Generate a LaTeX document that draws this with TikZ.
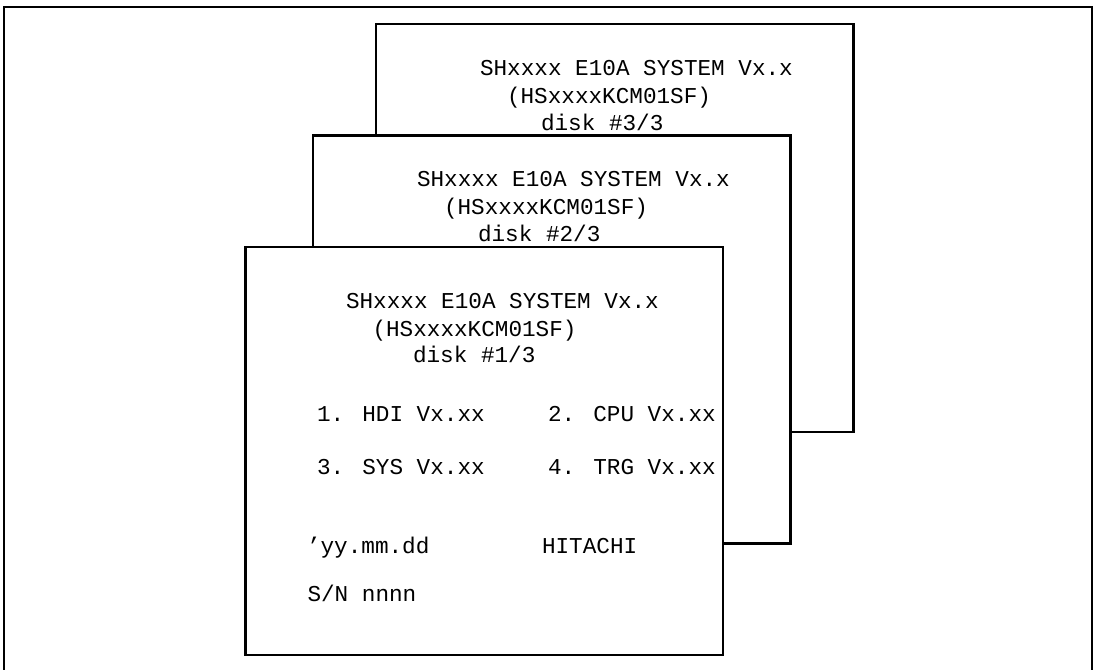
\documentclass[tikz,border=0pt]{standalone}
\usepackage{fontspec}
\newfontfamily\diskmono{Liberation Mono}
\begin{document}
\begin{tikzpicture}[x=0.75pt,y=-0.75pt,
  frameline/.style={draw=black,line width=1.5pt},
  diskbox/.style={draw=black,fill=white,line width=1.6pt,inner sep=0pt,outer sep=0pt,
    minimum width=358.1pt,minimum height=306pt,anchor=north west},
  label/.style={inner sep=0pt,outer sep=0pt,anchor=base west,
    font=\diskmono\fontsize{17pt}{20pt}\selectfont,text=black}]
\useasboundingbox (0,0) rectangle (1096,669);
\clip (0,0) rectangle (1096,669);
% outer frame (bottom edge falls outside the picture)
\coordinate (fa) at (4,7);
\coordinate (fb) at (1092,680);
\draw[frameline] (fa) rectangle (fb);
% disk 3 (back)
\node[diskbox] (d3) at (376,24) {};
\node[label] (d3a) at ([xshift=104*0.75pt,yshift=-51*0.75pt]d3.north west) {SHxxxx E10A SYSTEM Vx.x};
\node[label] (d3b) at ([xshift=131*0.75pt,yshift=-79*0.75pt]d3.north west) {(HSxxxxKCM01SF)};
\node[label] (d3c) at ([xshift=165*0.75pt,yshift=-106*0.75pt]d3.north west) {disk \#3/3};
% disk 2 (middle)
\node[diskbox] (d2) at (313,135.5) {};
\node[label] (d2a) at ([xshift=104*0.75pt,yshift=-51*0.75pt]d2.north west) {SHxxxx E10A SYSTEM Vx.x};
\node[label] (d2b) at ([xshift=131*0.75pt,yshift=-79*0.75pt]d2.north west) {(HSxxxxKCM01SF)};
\node[label] (d2c) at ([xshift=165*0.75pt,yshift=-106*0.75pt]d2.north west) {disk \#2/3};
% disk 1 (front)
\node[diskbox] (d1) at (245.5,247) {};
\node[label] (d1a) at ([xshift=100.5*0.75pt,yshift=-61*0.75pt]d1.north west) {SHxxxx E10A SYSTEM Vx.x};
\node[label] (d1b) at ([xshift=127*0.75pt,yshift=-89*0.75pt]d1.north west) {(HSxxxxKCM01SF)};
\node[label] (d1c) at ([xshift=167.5*0.75pt,yshift=-115*0.75pt]d1.north west) {disk \#1/3};
\node[label] (p1) at (317,421) {1. HDI Vx.xx};
\node[label] (p2) at (548,421) {2. CPU Vx.xx};
\node[label] (p3) at (317,474) {3. SYS Vx.xx};
\node[label] (p4) at (548,474) {4. TRG Vx.xx};
\node[label] (dt) at (307,553) {’yy.mm.dd};
\node[label] (mk) at (542,553) {HITACHI};
\node[label] (sn) at (307.5,601) {S/N nnnn};
\end{tikzpicture}
\end{document}
